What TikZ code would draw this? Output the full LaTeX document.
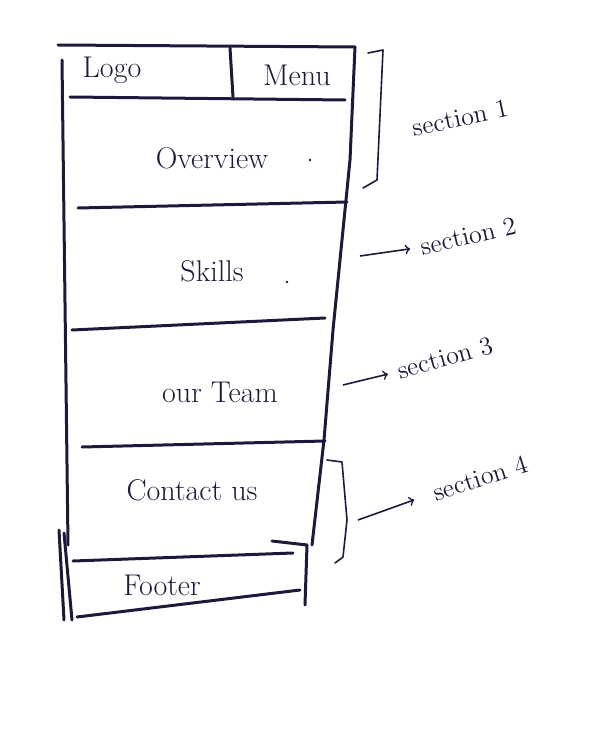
\documentclass[tikz,border=0pt]{standalone}
\usepackage{tikz}
\usetikzlibrary{positioning,calc,arrows}
\definecolor{ink}{RGB}{28,26,58}
\tikzset{pen/.style={draw=ink, line width=1.5pt, line cap=round, line join=round}}
\tikzset{pen1/.style={draw=ink, line width=0.8pt, line cap=round, line join=round}}
\tikzset{lbl/.style={text=ink, font=\fontsize{15}{18}\selectfont, inner sep=1pt}}
\tikzset{note/.style={text=ink, font=\fontsize{13}{15}\selectfont, inner sep=2pt}}
\tikzset{arr1/.style={draw=ink, ->, line width=0.8pt, shorten >=3pt}}

\begin{document}
\begin{tikzpicture}[x=0.5pt,y=-0.5pt]
			\useasboundingbox (0,0) rectangle (600,743);
			% page frame
			\draw[pen] (58,45) -- (355,47);
			\draw[pen] (62,60) -- (68,545);
			\draw[pen] (355,47) -- (350,160) -- (333,330) -- (324,440) -- (312,545);
			% rows
			\draw[pen] (70,97) -- (345,100);
			\draw[pen] (230,48) -- (233,97);
			\draw[pen] (78,208) -- (347,202);
			\draw[pen] (72,330) -- (325,318);
			\draw[pen] (82,447) -- (325,441);
			% footer
			\draw[pen] (59,530) -- (64,620);
			\draw[pen] (64,533) -- (72,620);
			\draw[pen] (73,561) -- (293,553);
			\draw[pen] (272,541) -- (307,545);
			\draw[pen] (307,545) -- (305,605);
			\draw[pen] (77,617) -- (300,590);
			\node[lbl] (logo) at (112,70) {Logo};
			\node[lbl] (menu) at (297,75) {Menu};
			\node[lbl] (overview) at (212,158) {Overview};
			\node[lbl] (skills) at (212,271) {Skills};
			\node[lbl] (team) at (220,392) {our Team};
			\node[lbl] (contact) at (192,490) {Contact us};
			\node[lbl] (footer) at (162,585) {Footer};
			\fill[ink] (310,160) circle (1.3);
			\fill[ink] (287,282) circle (1.3);
			% sections
			\draw[pen1] (368,53) -- (383,50) -- (377,180) -- (363,188);
			\draw[pen1] (327,460) -- (342,462) -- (347,520) -- (343,557) -- (335,563);
			\node[note, rotate=12] (sec1) at (460,118) {section 1};
			\node[note, rotate=13] (sec2) at (468,236) {section 2};
			\node[note, rotate=16] (sec3) at (445,358) {section 3};
			\node[note, rotate=18] (sec4) at (480,478) {section 4};
			\coordinate (s2) at (360,256);
			\coordinate (s3) at (343,385);
			\coordinate (s4) at (358,520);
			\draw[arr1] (s2) -- (sec2.west);
			\draw[arr1] (s3) -- (sec3.west);
			\draw[arr1, shorten >=8pt] (s4) -- (sec4.west);
		\end{tikzpicture}
\end{document}
